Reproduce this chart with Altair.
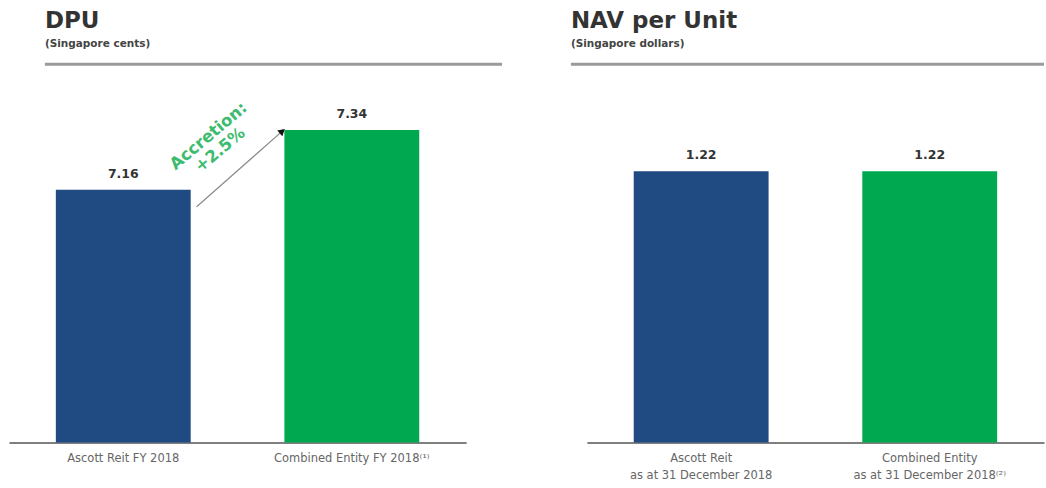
import altair as alt
import pandas as pd

dpu_categories = ["Ascott Reit FY 2018", "Combined Entity FY 2018⁽¹⁾"]
dpu_values = [7.16, 7.34]
nav_categories = ["Ascott Reit|as at 31 December 2018", "Combined Entity|as at 31 December 2018⁽²⁾"]
nav_values = [1.22, 1.22]
bar_colors = ["#1f4a82", "#00a84f"]

arrow_y = [7.109, 7.334]
accretion_text = "Accretion:\n+2.5%"

W, H = 458, 362
TITLE_FONT = "DejaVu Sans"

dpu_df = pd.DataFrame({"cat": dpu_categories, "val": dpu_values, "color": bar_colors,
                       "lab": [f"{v:.2f}" for v in dpu_values]})
nav_df = pd.DataFrame({"cat": nav_categories, "val": nav_values, "color": bar_colors,
                       "lab": [f"{v:.2f}" for v in nav_values]})

xscale = alt.Scale(paddingInner=0.41, paddingOuter=0.205)
xaxis = alt.Axis(title=None, labelAngle=0, ticks=False, domainColor="#555555", domainWidth=1.5,
                 labelFont="DejaVu Sans", labelFontSize=11.5, labelColor="#666666", labelPadding=10,
                 labelLineHeight=17, labelExpr="split(datum.label, '|')", labelLimit=300)


def yenc(field, ydomain):
    return alt.Y(field, scale=alt.Scale(domain=ydomain, zero=False, nice=False), axis=None)


def panel(df, ydomain, title, subtitle, tx, rule_x2):
    base = alt.Chart(df)
    x = alt.X("cat:N", sort=None, scale=xscale, axis=xaxis)
    y = yenc("val:Q", ydomain)
    bars = base.mark_bar().encode(x=x, y=y, y2=alt.datum(ydomain[0]),
                                  color=alt.Color("color:N", scale=None))
    labels = base.mark_text(fontWeight="bold", fontSize=12.5, font="DejaVu Sans", color="#333333",
                            baseline="alphabetic", dy=-12).encode(x=x, y=y, text="lab:N")
    one = pd.DataFrame({"t": [title], "s": [subtitle]})
    rule = alt.Chart(one).mark_rule(color="#9a9a9a", strokeWidth=3).encode(
        x=alt.value(tx), x2=alt.value(rule_x2), y=alt.value(-17))
    ttl = alt.Chart(one).mark_text(font=TITLE_FONT, fontSize=23, fontWeight="bold", color="#333333",
                                   align="left", baseline="top").encode(
        x=alt.value(tx), y=alt.value(-71), text="t:N")
    sub = alt.Chart(one).mark_text(font=TITLE_FONT, fontSize=10.5, fontWeight="bold", color="#444444",
                                   align="left", baseline="top").encode(
        x=alt.value(tx), y=alt.value(-42), text="s:N")
    return [bars, labels, rule, ttl, sub]


DPU_DOMAIN = [6.4, 7.486]
left_layers = panel(dpu_df, DPU_DOMAIN, "DPU", "(Singapore cents)", 36, 494)

arrow_df = pd.DataFrame({"val": [arrow_y[0]], "y2": [arrow_y[1]]})
arrow_line = alt.Chart(arrow_df).mark_rule(color="#8a8a8a", strokeWidth=1.2).encode(
    x=alt.value(188), x2=alt.value(273), y=yenc("val:Q", DPU_DOMAIN), y2="y2:Q")
arrow_head = alt.Chart(pd.DataFrame({"val": [arrow_y[1]]})).mark_point(
    shape="triangle", filled=True, color="#111111", size=60, angle=49, opacity=1).encode(
    x=alt.value(273), y=yenc("val:Q", DPU_DOMAIN))
accretion = alt.Chart(pd.DataFrame({"t": [accretion_text]})).mark_text(
    color="#3dbb6e", fontWeight="bold", fontSize=16.5, font="DejaVu Sans", angle=320,
    lineBreak="\n", lineHeight=18, align="center", baseline="middle").encode(
    x=alt.value(200), y=alt.value(55), text="t:N")

left = alt.layer(*left_layers, arrow_line, arrow_head, accretion).properties(width=W, height=H)

right = alt.layer(*panel(nav_df, [0, 1.624], "NAV per Unit", "(Singapore dollars)", -16, W)).properties(
    width=W, height=H)

chart = alt.hconcat(left, right, spacing=121, bounds="flush").properties(
    padding={"left": 9, "top": 10, "right": 0, "bottom": 0}
).configure_view(stroke=None)

chart.save("out.html", embed_options={"renderer": "svg", "actions": False})
